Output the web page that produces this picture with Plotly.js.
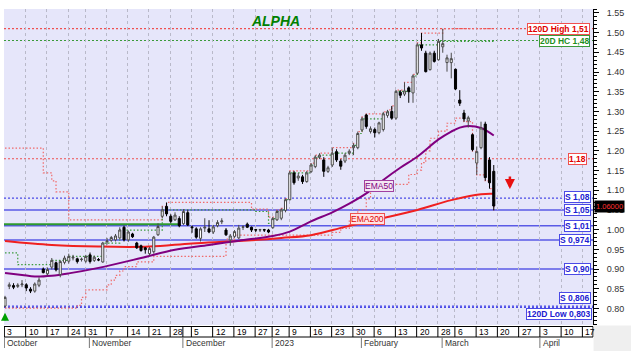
<!DOCTYPE html>
<html><head><meta charset="utf-8">
<script src="https://cdn.plot.ly/plotly-3.0.1.min.js"></script>
<style>html,body{margin:0;padding:0;background:#fff;}#chart{width:631px;height:351px;}</style>
</head><body><div id="chart"></div>
<script>
// ---------------- DATA ----------------
const dates = [
'2022-10-03','2022-10-04','2022-10-05','2022-10-06','2022-10-07','2022-10-10','2022-10-11','2022-10-12','2022-10-13','2022-10-14',
'2022-10-17','2022-10-18','2022-10-19','2022-10-20','2022-10-21','2022-10-24','2022-10-25','2022-10-26','2022-10-27','2022-10-31',
'2022-11-01','2022-11-02','2022-11-03','2022-11-04','2022-11-07','2022-11-08','2022-11-09','2022-11-10','2022-11-11','2022-11-14',
'2022-11-15','2022-11-16','2022-11-17','2022-11-18','2022-11-21','2022-11-22','2022-11-23','2022-11-24','2022-11-25','2022-11-28',
'2022-11-29','2022-11-30','2022-12-01','2022-12-02','2022-12-05','2022-12-06','2022-12-07','2022-12-08','2022-12-09','2022-12-12',
'2022-12-13','2022-12-14','2022-12-15','2022-12-16','2022-12-19','2022-12-20','2022-12-21','2022-12-22','2022-12-23','2022-12-27',
'2022-12-28','2022-12-29','2022-12-30','2023-01-02','2023-01-03','2023-01-04','2023-01-05','2023-01-09','2023-01-10','2023-01-11',
'2023-01-12','2023-01-13','2023-01-16','2023-01-17','2023-01-18','2023-01-19','2023-01-20','2023-01-23','2023-01-24','2023-01-25',
'2023-01-26','2023-01-27','2023-01-30','2023-01-31','2023-02-01','2023-02-02','2023-02-03','2023-02-06','2023-02-07','2023-02-08',
'2023-02-09','2023-02-10','2023-02-13','2023-02-14','2023-02-15','2023-02-16','2023-02-17','2023-02-20','2023-02-21','2023-02-22',
'2023-02-23','2023-02-24','2023-02-28','2023-03-01','2023-03-02','2023-03-03','2023-03-06','2023-03-07','2023-03-08','2023-03-09',
'2023-03-10','2023-03-13','2023-03-14','2023-03-15','2023-03-16','2023-03-17'];

const open = [
0.806,0.856,0.858,0.856,0.86,0.86,0.849,0.844,0.859,0.9,
0.888,0.905,0.916,0.886,0.917,0.92,0.928,0.926,0.924,0.92,
0.936,0.922,0.924,0.918,0.969,0.973,0.974,0.979,1.006,0.974,
0.989,0.966,0.959,0.954,0.939,0.944,0.987,1.034,1.059,1.034,
1.025,1.028,1.015,1.043,1.007,1.002,0.978,1.004,1.002,0.994,
1.01,1.02,0.999,0.974,0.983,0.979,1.006,1.014,1.006,1.0,
0.999,1.0,0.999,1.005,1.025,1.029,1.049,1.076,1.144,1.131,
1.134,1.122,1.147,1.16,1.184,1.177,1.148,1.164,1.198,1.174,
1.174,1.194,1.208,1.208,1.253,1.291,1.249,1.254,1.246,1.254,
1.29,1.3,1.283,1.349,1.344,1.36,1.347,1.397,1.469,1.448,
1.406,1.448,1.431,1.464,1.424,1.424,1.407,1.329,1.296,1.276,
1.241,1.169,1.208,1.268,1.177,1.148];
const high = [
0.832,0.866,0.864,0.864,0.872,0.864,0.854,0.866,0.879,0.904,
0.904,0.928,0.919,0.922,0.934,0.939,0.936,0.929,0.929,0.936,
0.942,0.934,0.928,0.969,0.979,0.984,0.989,1.006,1.01,0.998,
0.992,0.969,0.962,0.956,0.956,0.984,1.016,1.059,1.069,1.039,
1.044,1.034,1.052,1.049,1.01,1.006,1.006,1.029,1.024,1.012,
1.024,1.029,1.004,0.989,0.999,1.012,1.011,1.018,1.008,1.002,
1.002,1.002,1.002,1.032,1.05,1.054,1.079,1.149,1.149,1.144,
1.139,1.149,1.169,1.189,1.194,1.184,1.162,1.208,1.204,1.179,
1.194,1.204,1.219,1.249,1.286,1.294,1.262,1.259,1.274,1.299,
1.304,1.314,1.354,1.354,1.374,1.364,1.394,1.474,1.499,1.454,
1.452,1.454,1.484,1.51,1.444,1.449,1.409,1.354,1.304,1.289,
1.244,1.211,1.274,1.274,1.184,1.164];
const low = [
0.803,0.849,0.849,0.852,0.854,0.844,0.839,0.84,0.854,0.889,
0.884,0.899,0.894,0.879,0.912,0.914,0.922,0.914,0.919,0.916,
0.914,0.918,0.92,0.916,0.962,0.969,0.97,0.976,0.97,0.969,
0.979,0.951,0.944,0.939,0.934,0.939,0.984,1.029,1.034,1.016,
1.022,1.006,1.012,1.009,0.992,0.977,0.97,0.994,0.991,0.989,
1.006,1.014,0.984,0.959,0.979,0.976,0.999,1.004,0.994,0.994,
0.994,0.994,0.991,1.002,1.022,1.024,1.044,1.074,1.114,1.124,
1.116,1.119,1.144,1.156,1.179,1.134,1.144,1.159,1.172,1.152,
1.169,1.189,1.189,1.204,1.249,1.256,1.244,1.234,1.242,1.249,
1.284,1.279,1.279,1.334,1.339,1.322,1.322,1.394,1.454,1.399,
1.404,1.424,1.429,1.449,1.401,1.384,1.354,1.314,1.274,1.259,
1.199,1.139,1.204,1.124,1.104,1.049];
const close = [
0.828,0.86,0.854,0.859,0.862,0.852,0.844,0.862,0.872,0.891,
0.899,0.922,0.898,0.919,0.928,0.932,0.93,0.919,0.925,0.932,
0.919,0.93,0.923,0.966,0.971,0.98,0.984,0.999,0.974,0.994,
0.982,0.954,0.947,0.949,0.952,0.981,1.008,1.05,1.04,1.021,
1.037,1.01,1.046,1.012,1.005,0.981,1.002,1.006,0.994,1.007,
1.018,1.022,0.987,0.984,0.995,1.004,1.007,1.006,0.999,0.999,
1.0,0.999,0.994,1.028,1.046,1.05,1.076,1.144,1.119,1.136,
1.122,1.144,1.164,1.184,1.189,1.148,1.157,1.194,1.177,1.161,
1.189,1.199,1.214,1.244,1.281,1.262,1.256,1.246,1.271,1.294,
1.299,1.283,1.351,1.341,1.352,1.35,1.39,1.469,1.461,1.401,
1.448,1.427,1.478,1.472,1.436,1.434,1.357,1.321,1.281,1.284,
1.203,1.198,1.258,1.132,1.119,1.06];

// moving averages (at trading-day positions)
const ema50Idx = [0,4,7,11,15,22,32,40,48,55,63,67,72,77,81,85,89,93,97,102,105,107,109,112,115];
const ema50Val = [0.890,0.885,0.881,0.883,0.889,0.903,0.928,0.949,0.961,0.972,0.984,0.995,1.021,1.044,1.066,1.092,1.126,1.157,1.185,1.229,1.249,1.259,1.263,1.258,1.239];
const ema200Idx = [0,11,22,34,44,55,65,72,80,88,97,105,112,115];
const ema200Val = [0.971,0.961,0.957,0.957,0.965,0.971,0.979,0.986,1.007,1.027,1.05,1.075,1.09,1.091];

// 20-day channel step lines
const hc20Idx = [0,3,11,15,23,27,37,59,62,63,64,65,66,67,72,73,74,77,82,83,84,89,90,92,96,97,102,115];
const hc20Val = [0.941,0.911,0.922,0.932,0.966,0.999,1.05,1.046,1.016,1.028,1.046,1.05,1.076,1.144,1.164,1.184,1.189,1.194,1.214,1.244,1.281,1.294,1.299,1.351,1.39,1.469,1.478,1.478];
const hh20Idx = [0,9,11,12,15,37,38,58,62,63,64,65,66,67,72,73,74,77,82,83,84,85,89,90,91,92,94,96,97,98,103,115];
const hh20Val = [1.207,1.144,1.124,1.096,1.025,1.059,1.069,1.052,1.032,1.032,1.05,1.054,1.079,1.149,1.169,1.189,1.194,1.208,1.219,1.249,1.286,1.294,1.299,1.304,1.314,1.354,1.374,1.394,1.474,1.499,1.51,1.51];
const ll20Idx = [0,17,18,19,24,25,26,27,28,31,35,52,54,77,79,81,83,85,86,90,95,97,98,99,100,102,104,106,108,110,111,113,114,115];
const ll20Val = [0.801,0.808,0.828,0.847,0.86,0.872,0.884,0.895,0.906,0.918,0.932,0.976,0.986,0.993,1.003,1.022,1.05,1.078,1.1,1.115,1.14,1.151,1.17,1.2,1.232,1.25,1.27,1.283,1.274,1.199,1.139,1.124,1.104,1.049];

// horizontal levels
const levelValues = [1.51, 1.48, 1.18, 1.08, 1.05, 1.01, 0.974, 0.90, 0.806, 0.803];
const levelLabels = ['120D High 1,51','20D HC 1,48','1,18','S 1,08','S 1,05','S 1,01','S 0,974','S 0,90','S 0,806','120D Low 0,803'];
const levelKinds  = ['high','hc','mark','supdot','sup','sup','sup','sup','supdot','low'];
const greenLineValue = 1.014;
const greenLineEnd = 41;

// date axis labels (trading-day positions)
const weekIdx = [0,5,10,15,19,24,29,34,39,44,49,54,59,63,67,72,77,82,87,92,97,102,106,111,116,121,126,131,136];
const weekLabels = ['3','10','17','24','31','7','14','21','28','5','12','19','27','2','9','16','23','30','6','13','20','28','6','13','20','27','3','10','17'];
const monthIdx = [0,20,42,63,84,103,126];
const monthLabels = ['October','November','December','2023','February','March','April'];

// ---------------- STYLE / LAYOUT ----------------
const FONT = 'Liberation Sans, Arial, sans-serif';
const PT = 9, PB = 325;
const py = Y => (PB - Y) / (PB - PT);
const XR = [-0.24, 138.35];
const xIdx = dates.map((d, i) => i);

const kindStyle = {
  high:   {line:'#f05050', dash:'2px,2px', w:1.2, text:'#e00000', border:'#f05050', xs:-3},
  hc:     {line:'#3a9a3a', dash:'2px,2px', w:1.2, text:'#1f8f1f', border:'#3a9a3a', xs:-3},
  mark:   {line:'#f05050', dash:'2px,2px', w:1.2, text:'#e00000', border:'#f05050', xs:-6},
  supdot: {line:'#4a4ae6', dash:'2px,2px', w:1.4, text:'#2020d0', border:'#4a4ae6', xs:-2},
  sup:    {line:'#5a5ae6', dash:'solid',   w:1.5, text:'#2020d0', border:'#4a4ae6', xs:-2},
  low:    {line:'#4a4ae6', dash:'2px,2px', w:1.4, text:'#2020d0', border:'#4a4ae6', xs:-1}
};
const labelShift = [0, 0, 0, 1, 0, 0, 0, 0, 8, -7];

const traces = [
  {type:'scatter', mode:'lines', x:ll20Idx, y:ll20Val, line:{shape:'hv', color:'#f06a6a', width:1.2, dash:'1.5px,2px'}, hoverinfo:'skip'},
  {type:'scatter', mode:'lines', x:hh20Idx, y:hh20Val, line:{shape:'hv', color:'#f06a6a', width:1.2, dash:'1.5px,2px'}, hoverinfo:'skip'},
  {type:'scatter', mode:'lines', x:hc20Idx, y:hc20Val, line:{shape:'hv', color:'#3a9a3a', width:1.2, dash:'1.5px,2px'}, hoverinfo:'skip'},
  {type:'scatter', mode:'lines', x:ema200Idx, y:ema200Val, line:{shape:'spline', color:'#f02020', width:2}, hoverinfo:'skip'},
  {type:'scatter', mode:'lines', x:ema50Idx, y:ema50Val, line:{shape:'spline', color:'#800080', width:2}, hoverinfo:'skip'},
  {type:'candlestick', x:xIdx, open:open, high:high, low:low, close:close, xaxis:'x2', yaxis:'y',
   text: dates, hoverinfo:'skip', whiskerwidth:0,
   increasing:{line:{color:'#4a4a4a', width:1}, fillcolor:'#ffffff'},
   decreasing:{line:{color:'#000000', width:1}, fillcolor:'#000000'}}
];

const shapes = [];
levelValues.forEach((v, i) => {
  const s = kindStyle[levelKinds[i]];
  shapes.push({type:'line', layer:'below', xref:'paper', x0:0, x1:1, yref:'y', y0:v, y1:v,
               line:{color:s.line, width:s.w, dash:s.dash}});
});
shapes.push({type:'line', layer:'below', xref:'x', x0:XR[0], x1:greenLineEnd, yref:'y', y0:greenLineValue, y1:greenLineValue,
             line:{color:'#2e9a2e', width:2}});

// date boxes
const rowTop = py(326.5), rowMid = py(337), rowBot = py(348);
shapes.push({type:'line', xref:'paper', x0:0, x1:1, yref:'paper', y0:rowTop, y1:rowTop, line:{color:'#000', width:1}});
shapes.push({type:'line', xref:'paper', x0:0, x1:1, yref:'paper', y0:rowMid, y1:rowMid, line:{color:'#000', width:1}});
// a month start gets its own divider in the day row only when the box would be wide enough
const dividers = weekIdx.slice();
monthIdx.forEach(m => {
  const prev = Math.max.apply(null, weekIdx.filter(k => k <= m));
  if (m - prev >= 3) dividers.push(m);
});
dividers.forEach(k => {
  shapes.push({type:'line', xref:'x', x0:k-0.15, x1:k-0.15, yref:'paper', y0:rowTop, y1:rowMid, line:{color:'#000', width:1}});
});
shapes.push({type:'line', xref:'paper', x0:1, x1:1, yref:'paper', y0:rowTop, y1:rowMid, line:{color:'#000', width:1}});
monthIdx.forEach(k => {
  shapes.push({type:'line', xref:'x', x0:k-0.15, x1:k-0.15, yref:'paper', y0:rowMid, y1:rowBot, line:{color:'#777', width:1}});
});
// grey corner under the price axis
shapes.push({type:'rect', xref:'paper', x0:1.001, x1:1 + 40/589, yref:'paper', y0:py(352), y1:py(325.5),
             fillcolor:'#efefef', line:{width:0}});

const annotations = [];
levelValues.forEach((v, i) => {
  const s = kindStyle[levelKinds[i]];
  annotations.push({xref:'paper', x:1, xanchor:'right', xshift:s.xs, yref:'y', y:v, yanchor:'middle', yshift:labelShift[i],
    text:levelLabels[i], showarrow:false, bgcolor:'#ffffff', bordercolor:s.border, borderwidth:1, borderpad:0,
    font:{family:FONT, size:8.5, color:s.text, weight:'bold'}});
});
weekIdx.forEach((k, i) => {
  annotations.push({xref:'x', x:k-0.15, xanchor:'left', xshift:1, yref:'paper', y:(rowTop+rowMid)/2, yanchor:'middle',
    text:weekLabels[i], showarrow:false, font:{family:FONT, size:8.5, color:'#000'}});
});
monthIdx.forEach((k, i) => {
  annotations.push({xref:'x', x:k-0.15, xanchor:'left', xshift:1, yref:'paper', y:(rowMid+rowBot)/2, yanchor:'middle',
    text:monthLabels[i], showarrow:false, font:{family:FONT, size:8.5, color:'#333'}});
});
// last price tag
annotations.push({xref:'paper', x:1, xanchor:'left', xshift:1, yref:'y', y:close[close.length-1], yanchor:'middle',
  text:close[close.length-1].toFixed(5), showarrow:false, bgcolor:'#000', borderpad:1,
  font:{family:FONT, size:7.5, color:'#ff3030'}});
// EMA labels
annotations.push({xref:'x', x:88, yref:'y', y:1.110, text:'EMA50', showarrow:false, bgcolor:'#f3e6f3', bordercolor:'#a040a0',
  borderwidth:1, borderpad:0, font:{family:FONT, size:8.5, color:'#800080'}});
annotations.push({xref:'x', x:85.4, yref:'y', y:1.026, text:'EMA200', showarrow:false, bgcolor:'#ffe4e4', bordercolor:'#f05050',
  borderwidth:1, borderpad:0, font:{family:FONT, size:8.5, color:'#e00000'}});
// signal arrows
annotations.push({xref:'x', x:118.8, yref:'y', y:1.103, ax:0, ay:-14, text:'', showarrow:true, arrowhead:2, arrowsize:0.8,
  arrowwidth:2.5, arrowcolor:'#e81010'});
annotations.push({xref:'x', x:0, yref:'y', y:0.789, ax:0, ay:9, text:'', showarrow:true, arrowhead:2, arrowsize:0.8,
  arrowwidth:2, arrowcolor:'#00a000'});

const layout = {
  width:631, height:351,
  margin:{l:4, r:38, t:9, b:26, pad:0},
  paper_bgcolor:'#ffffff', plot_bgcolor:'#e6e6fa',
  font:{family:FONT, size:9, color:'#333'},
  showlegend:false, hovermode:false,
  title:{text:'ALPHA', x:276/631, xanchor:'center', y:1-21/351, yanchor:'middle',
         font:{family:FONT, size:14, color:'#008000', weight:'bold', style:'italic'}},
  xaxis:{type:'linear', range:XR, tickmode:'array', tickvals:weekIdx.map(k => k-0.15), showticklabels:false, ticks:'',
         showgrid:true, gridcolor:'#b9b9c9', griddash:'dot', gridwidth:1, zeroline:false, showline:false,
         fixedrange:true, rangeslider:{visible:false}},
  xaxis2:{type:'linear', overlaying:'x', range:XR, visible:false, showgrid:false, zeroline:false, fixedrange:true,
          rangeslider:{visible:false}},
  yaxis:{side:'right', range:[0.758, 1.560], tick0:0, dtick:0.05, tickformat:'.2f', ticks:'outside', ticklen:5,
         tickcolor:'#000', tickwidth:1, showline:true, linecolor:'#000', linewidth:1, showgrid:false, zeroline:false,
         minor:{dtick:0.01, tick0:0, ticks:'outside', ticklen:2.5, tickcolor:'#000', tickwidth:1, showgrid:false},
         tickfont:{family:FONT, size:9, color:'#333'}, ticklabelstandoff:6, fixedrange:true},
  shapes:shapes,
  annotations:annotations
};

Plotly.newPlot('chart', traces, layout, {displayModeBar:false, staticPlot:true});
</script>
</body></html>
